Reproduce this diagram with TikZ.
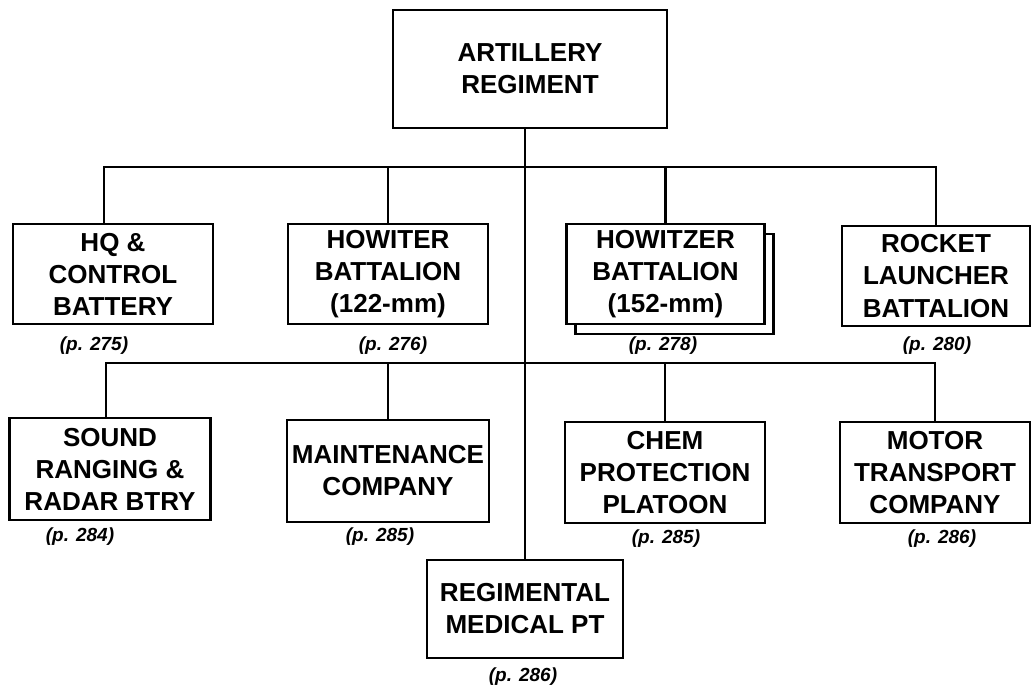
\documentclass[tikz,border=0pt]{standalone}
\usepackage{fontspec}
\setmainfont{Liberation Sans}
\usetikzlibrary{positioning}

\begin{document}
\begin{tikzpicture}[
  x=0.025cm,y=-0.025cm,
  unit/.style={draw,line width=2pt,fill=white,inner sep=0pt,align=center,
    minimum width=5cm,minimum height=2.5cm,
    font=\fontsize{18.5}{22.8}\selectfont\bfseries},
  pgref/.style={inner sep=0pt,font=\fontsize{13.5}{16}\selectfont\bfseries\itshape},
  link/.style={line width=1.6pt}
]
  \useasboundingbox (0,0) rectangle (1032,688);

  % Regiment
  \node[unit,minimum width=6.85cm,minimum height=2.95cm] (regiment) at (530,69)
    {ARTILLERY\\REGIMENT};

  % Row 1
  \node[unit] (hqbty) at (113,274) {HQ \&\\CONTROL\\BATTERY};
  \node[unit] (howbn122) at (388,274) {HOWITER\\BATTALION\\(122-mm)};
  \node[unit,minimum width=4.95cm] (howbn152back) at (674.5,284) {};
  \node[unit,minimum width=4.95cm] (howbn152) at (665.5,274) {HOWITZER\\BATTALION\\(152-mm)};
  \node[unit,minimum width=4.7cm] (rktbn) at (936,276) {ROCKET\\LAUNCHER\\BATTALION};

  \node[pgref] (pg275) at (94,346) {(p. 275)};
  \node[pgref] (pg276) at (393,346) {(p. 276)};
  \node[pgref] (pg278) at (663,346) {(p. 278)};
  \node[pgref] (pg280) at (937,346) {(p. 280)};

  % Row 2
  \node[unit,minimum width=5.03cm,minimum height=2.55cm] (srbty) at (110,469) {SOUND\\RANGING \&\\RADAR BTRY};
  \node[unit,minimum width=5.05cm,minimum height=2.55cm] (maintco) at (388,471) {MAINTENANCE\\COMPANY};
  \node[unit,minimum height=2.52cm] (chempl) at (665,472.5) {CHEM\\PROTECTION\\PLATOON};
  \node[unit,minimum width=4.75cm,minimum height=2.52cm] (mtco) at (935,472.5) {MOTOR\\TRANSPORT\\COMPANY};

  \node[pgref] (pg284) at (80,537) {(p. 284)};
  \node[pgref] (pg285a) at (380,537) {(p. 285)};
  \node[pgref] (pg285b) at (666,539) {(p. 285)};
  \node[pgref] (pg286a) at (942,539) {(p. 286)};

  % Medical
  \node[unit,minimum width=4.9cm,minimum height=2.45cm] (medpt) at (525,609) {REGIMENTAL\\MEDICAL PT};
  \node[pgref] (pg286b) at (523,677) {(p. 286)};

  % Connectors
  \coordinate (busa) at (527,167);
  \coordinate (busb) at (527,363);
  \draw[link] (regiment.south -| medpt.north) -- (medpt.north);
  \draw[link] ([xshift=-0.225cm]hqbty.north) |- (busa) -| (rktbn.north);
  \draw[link] (howbn122.north) -- (howbn122.north |- busa);
  \draw[link] (howbn152.north) -- (howbn152.north |- busa);
  \draw[link] ([xshift=-0.1cm]srbty.north) |- (busb) -| (mtco.north);
  \draw[link] (maintco.north) -- (maintco.north |- busb);
  \draw[link] (chempl.north) -- (chempl.north |- busb);
\end{tikzpicture}
\end{document}
